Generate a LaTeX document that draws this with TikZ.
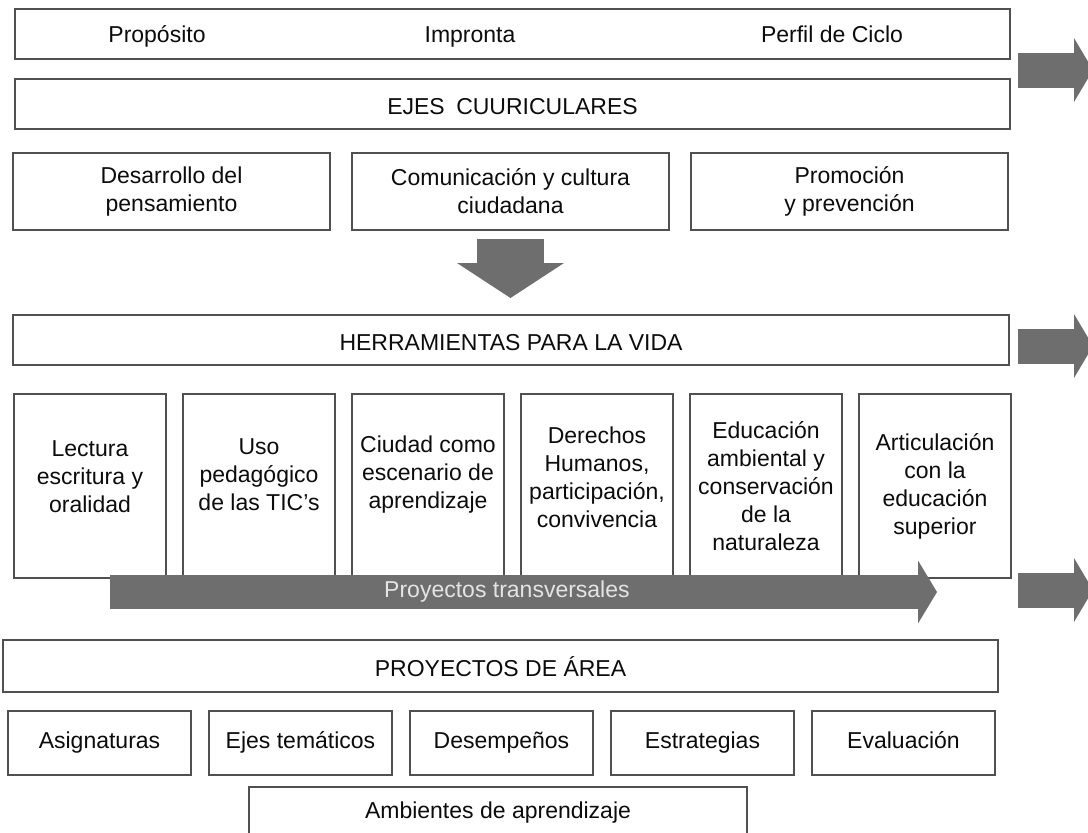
\documentclass[tikz,border=0pt]{standalone}
\usepackage{fontspec}
\setmainfont{Liberation Sans}
\usetikzlibrary{arrows.meta, positioning}

\definecolor{edgegray}{RGB}{80,80,80}
\definecolor{arrowgray}{RGB}{110,110,110}
\definecolor{inkgray}{RGB}{12,12,12}
\definecolor{transtext}{RGB}{228,228,228}

\begin{document}
\begin{tikzpicture}[
                    x=1pt, y=1pt,
                    node distance=17pt,
                    font=\fontsize{23}{28}\selectfont,
                    text=inkgray,
                    block/.style={rectangle, draw=edgegray, line width=1.5pt, fill=white, align=center, inner sep=0pt, outer sep=0pt},
                    line1/.style={text height=16.5pt, text depth=5pt},
                    wide/.style={block, text height=22pt, text depth=1.5pt, minimum width=995pt, minimum height=50pt},
                    mid/.style={block, minimum width=317pt, minimum height=77pt},
                    tall/.style={block, minimum width=152pt, minimum height=184pt},
                    small/.style={block, line1, minimum width=183pt, minimum height=64pt},
                    txt/.style={inner sep=0pt, anchor=base},
                    bigarrow/.style={draw=arrowgray, line width=35pt, -{Triangle[width=64pt, length=19pt, line width=0pt]}}
                ]
    \path [use as bounding box, fill=white] (0,0) rectangle (1088,-833);

    % Place nodes
    \node [wide, anchor=north west] (cabecera) at (15,-9) {};
    \node [txt] (proposito) at (157,-42) {Propósito};
    \node [txt] (impronta) at (470,-42) {Impronta};
    \node [txt] (perfil) at (832,-42) {Perfil de Ciclo};
    \node [wide, below=20pt of cabecera] (ejes) {EJES\enspace CUURICULARES};

    \node [mid, anchor=north west] (desarrollo) at (13,-153) {Desarrollo del\\pensamiento};
    \node [mid, right=22pt of desarrollo] (comunicacion) {Comunicación y cultura\\ciudadana};
    \node [mid, right=22pt of comunicacion] (promocion) {Promoción\\y prevención};

    \node [wide, minimum width=996pt, anchor=north west] (herramientas) at (13,-315) {HERRAMIENTAS PARA LA VIDA};

    \node [tall, text depth=18pt, anchor=north west] (lectura) at (14,-394) {Lectura\\escritura y\\oralidad};
    \node [tall, text depth=22pt, right=of lectura] (uso) {Uso\\pedagógico\\de las TIC’s};
    \node [tall, text depth=28pt, right=of uso] (ciudad) {Ciudad como\\escenario de\\aprendizaje};
    \node [tall, text depth=18pt, right=of ciudad] (derechos) {Derechos\\Humanos,\\participación,\\convivencia};
    \node [tall, right=of derechos] (ambiental) {Educación\\ambiental y\\conservación\\de la\\naturaleza};
    \node [tall, right=of ambiental] (articulacion) {Articulación\\con la\\educación\\superior};

    \node [wide, minimum height=52pt, anchor=north west] (area) at (3,-640) {PROYECTOS DE ÁREA};

    \node [small, anchor=north west] (asignaturas) at (8,-711) {Asignaturas};
    \node [small, right=18pt of asignaturas] (tematicos) {Ejes temáticos};
    \node [small, right=18pt of tematicos] (desempenos) {Desempeños};
    \node [small, right=18pt of desempenos] (estrategias) {Estrategias};
    \node [small, right=18pt of estrategias] (evaluacion) {Evaluación};

    \node [block, line1, minimum width=498pt, minimum height=52pt, anchor=north west] (ambientes) at (249,-787) {Ambientes de aprendizaje};

    % Free ends of the arrows
    \coordinate (sal1a) at (1018,-70);
    \coordinate (sal1b) at (1093,-70);
    \coordinate (sal2a) at (1018,-346);
    \coordinate (sal2b) at (1093,-346);
    \coordinate (sal3a) at (1018,-590);
    \coordinate (sal3b) at (1093,-590);
    \coordinate (tini) at (110,-592);
    \coordinate (tfin) at (937,-592);

    % Draw arrows
    \draw [bigarrow, line width=67pt, -{Triangle[width=107pt, length=35pt, line width=0pt]}, shorten <=9pt, shorten >=17pt] (comunicacion.south) -- (comunicacion.south |- herramientas.north);
    \draw [bigarrow, line width=34pt, -{Triangle[width=63pt, length=19pt, line width=0pt]}] (tini) -- node [pos=0.48, line1, text=transtext] (transversal) {Proyectos transversales} (tfin);
    \draw [bigarrow] (sal1a) -- (sal1b);
    \draw [bigarrow] (sal2a) -- (sal2b);
    \draw [bigarrow] (sal3a) -- (sal3b);
\end{tikzpicture}
\end{document}
